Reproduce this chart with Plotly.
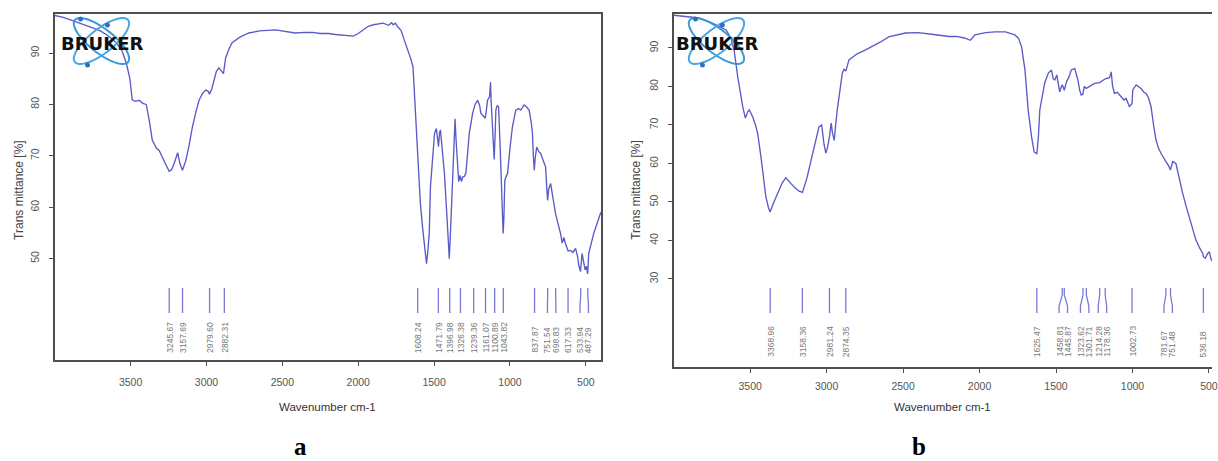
import numpy as np
import plotly.graph_objects as go

# ---------------- spectrum a ----------------
wn_a = [3999, 3950, 3900, 3836, 3770, 3705, 3650, 3593, 3555, 3528, 3505, 3489, 3470, 3443,
        3420, 3397, 3377, 3357, 3330, 3311, 3279, 3246, 3230, 3213, 3190, 3175, 3158, 3136,
        3115, 3093, 3070, 3049, 3025, 3005, 2990, 2980, 2965, 2950, 2935, 2918, 2905, 2888,
        2874, 2852, 2831, 2780, 2721, 2650, 2546, 2480, 2415, 2350, 2300, 2250, 2197, 2150,
        2100, 2060, 2033, 2000, 1970, 1934, 1900, 1870, 1836, 1800, 1780, 1770, 1755, 1740,
        1718, 1700, 1672, 1655, 1639, 1630, 1620, 1610, 1600, 1590, 1574, 1560, 1550, 1541,
        1532, 1524, 1514, 1505, 1497, 1485, 1478, 1471, 1464, 1458, 1452, 1447, 1432, 1415,
        1403, 1400, 1388, 1375, 1368, 1362, 1356, 1346, 1338, 1329, 1320, 1311, 1300, 1290,
        1278, 1268, 1246, 1230, 1213, 1200, 1192, 1175, 1163, 1155, 1148, 1135, 1128, 1124,
        1118, 1110, 1104, 1098, 1093, 1084, 1075, 1064, 1053, 1045, 1040, 1034, 1025, 1016,
        1000, 984, 962, 945, 929, 907, 890, 874, 860, 852, 846, 840, 834, 824, 810, 798, 780,
        765, 758, 752, 745, 732, 715, 700, 685, 667, 656, 645, 635, 623, 617, 601, 585, 568,
        555, 545, 535, 525, 515, 505, 496, 488, 481, 465, 448, 430, 415, 401]
t_a = [97.3, 97.0, 96.5, 95.8, 95.0, 94.4, 93.4, 92.0, 90.3, 88.0, 85.0, 80.9, 80.6, 80.8,
       80.2, 80.0, 76.9, 73.0, 71.5, 71.0, 69.0, 67.0, 67.3, 68.5, 70.6, 68.5, 67.2, 69.1,
       72.0, 75.6, 78.5, 80.8, 82.2, 82.8, 82.6, 82.0, 83.0, 84.8, 86.4, 87.1, 86.6, 86.0,
       89.0, 90.8, 92.0, 93.1, 93.9, 94.3, 94.5, 94.2, 93.9, 94.0, 94.0, 93.8, 93.8, 93.6,
       93.5, 93.3, 93.3, 93.8, 94.5, 95.2, 95.5, 95.7, 95.8, 95.4, 95.9, 95.5, 95.8, 95.1,
       94.4, 92.8, 90.6, 89.0, 87.3, 82.0, 75.6, 70.0, 66.0, 60.5, 55.5, 51.0, 49.0, 51.5,
       55.0, 64.0, 68.5, 71.0, 74.4, 75.3, 73.0, 71.8, 74.5, 75.0, 73.0, 71.7, 66.6, 58.0,
       50.2, 50.0, 58.0, 68.0, 72.5, 77.2, 73.5, 68.0, 65.0, 66.2, 65.0, 65.9, 66.0, 66.8,
       71.0, 74.4, 78.3, 80.0, 80.8, 79.8, 78.3, 77.8, 77.3, 79.0, 80.8, 81.5, 84.3, 80.5,
       77.0, 70.5, 69.3, 74.0, 78.9, 79.8, 79.5, 71.1, 61.3, 54.9, 58.0, 65.2, 66.0, 66.6,
       71.5, 75.6, 78.9, 79.2, 78.9, 79.9, 79.5, 78.9, 76.5, 74.4, 70.0, 67.2, 69.5, 71.7,
       70.8, 70.5, 69.0, 67.8, 64.0, 61.3, 63.5, 64.6, 61.5, 58.8, 57.0, 54.9, 53.0, 54.1,
       53.0, 52.2, 51.5, 51.6, 51.2, 52.0, 50.5, 48.5, 47.5, 51.0, 49.5, 47.8, 48.5, 47.0,
       51.0, 53.0, 54.9, 56.5, 58.0, 59.0]
peaks_a = [3245.67, 3157.69, 2979.60, 2882.31, 1608.24, 1471.79, 1396.98, 1326.38, 1239.36,
           1161.07, 1100.89, 1043.82, 837.87, 751.54, 698.83, 617.33, 533.94, 487.29]

# ---------------- spectrum b ----------------
wn_b = [3999, 3950, 3900, 3833, 3750, 3700, 3657, 3625, 3605, 3581, 3560, 3548, 3531, 3515,
        3505, 3483, 3465, 3451, 3430, 3418, 3397, 3380, 3369, 3350, 3320, 3290, 3267, 3240,
        3210, 3180, 3158, 3130, 3100, 3072, 3050, 3032, 3017, 3005, 2995, 2981, 2970, 2962,
        2950, 2941, 2930, 2897, 2885, 2874, 2860, 2854, 2800, 2745, 2650, 2594, 2485, 2400,
        2300, 2200, 2150, 2100, 2060, 2030, 1960, 1900, 1830, 1769, 1745, 1725, 1703, 1682,
        1660, 1643, 1625, 1615, 1606, 1590, 1574, 1550, 1530, 1518, 1508, 1495, 1476, 1465,
        1458, 1446, 1432, 1415, 1400, 1378, 1357, 1345, 1335, 1324, 1315, 1302, 1280, 1248,
        1214, 1194, 1178, 1150, 1139, 1130, 1118, 1100, 1074, 1055, 1042, 1030, 1020, 1003,
        998, 976, 960, 944, 925, 911, 895, 879, 862, 846, 830, 813, 781, 765, 752, 737, 716,
        695, 672, 650, 629, 605, 585, 560, 541, 536, 524, 510, 498, 485, 468, 450, 420, 400]
t_b = [98.5, 98.3, 98.0, 97.8, 96.5, 95.5, 94.7, 92.5, 89.5, 82.5, 77.0, 74.7, 71.8, 73.5,
       73.9, 72.1, 70.0, 67.9, 62.0, 57.5, 51.3, 48.5, 47.4, 49.5, 52.5, 55.0, 56.3, 55.0,
       53.8, 52.8, 52.5, 56.0, 61.0, 65.5, 69.5, 70.0, 65.0, 62.7, 64.0, 67.0, 70.5, 68.0,
       66.0, 70.0, 74.0, 83.5, 84.5, 84.0, 86.5, 86.9, 88.5, 89.5, 91.5, 92.9, 93.9, 94.0,
       93.5, 93.0, 93.0, 92.6, 92.0, 93.4, 94.0, 94.2, 94.2, 93.4, 92.5, 90.3, 84.3, 73.9,
       67.0, 63.0, 62.5, 67.0, 73.9, 78.0, 80.9, 83.5, 84.3, 82.0, 81.7, 83.0, 78.6, 80.0,
       80.4, 79.0, 81.2, 82.5, 84.3, 84.7, 81.7, 79.0, 77.8, 78.0, 80.0, 79.5, 80.0, 80.8,
       81.0, 81.7, 82.0, 82.3, 83.8, 80.0, 78.2, 78.5, 77.4, 76.5, 76.9, 75.5, 74.8, 75.5,
       79.1, 80.4, 80.0, 79.5, 78.5, 78.2, 77.0, 74.8, 70.0, 66.1, 64.0, 62.6, 60.5, 59.5,
       58.3, 60.5, 60.0, 56.0, 52.3, 49.0, 46.2, 43.0, 40.1, 38.0, 36.7, 35.8, 35.4, 36.5,
       37.1, 35.0, 34.1, 32.5, 31.0, 30.0]
peaks_b = [3368.96, 3158.36, 2981.24, 2874.35, 1625.47, 1458.81, 1445.87, 1323.62, 1301.71,
           1214.28, 1178.36, 1002.73, 781.67, 751.48, 536.18]

x_ticks = [3500, 3000, 2500, 2000, 1500, 1000, 500]
y_ticks_a = [50, 60, 70, 80, 90]
y_ticks_b = [30, 40, 50, 60, 70, 80, 90]

W, H = 1218, 461
LINE = "#5a5ac8"
PEAK = "#7a7ad4"
AXC = "#4f4f4f"
SANS = "Liberation Sans, Arial, sans-serif"


def fx(p):
    return p / W


def fy(p):
    return 1 - p / H


panels = {
    "a": dict(xd=(55, 604), yd=(14, 360), xr=(4000, 400), yr=(30.27, 97.59),
              wn=wn_a, t=t_a, peaks=peaks_a, yt=y_ticks_a, line_px=(288, 313),
              text_px=355, xstand=7, logo=(102, 41), title_x=19, letter=("a", 302)),
    "b": dict(xd=(677, 1218), yd=(14, 367), xr=(4000, 480), yr=(7.14, 98.83),
              wn=wn_b, t=t_b, peaks=peaks_b, yt=y_ticks_b, line_px=(288, 313),
              text_px=359, xstand=4, logo=(720, 41), title_x=639, letter=("b", 924)),
}

fig = go.Figure()
shapes, annotations = [], []


def note(x, y, text, font, angle=0, xref="paper", xanchor="center", yanchor="middle"):
    annotations.append(dict(x=x, y=y, xref=xref, yref="paper", text=text,
                            showarrow=False, textangle=angle, xanchor=xanchor,
                            yanchor=yanchor, font=font))


for i, (key, p) in enumerate(panels.items()):
    xa = "x" if i == 0 else "x2"
    ya = "y" if i == 0 else "y2"
    fig.add_trace(go.Scatter(x=p["wn"], y=p["t"], mode="lines", xaxis=xa, yaxis=ya,
                             line=dict(color=LINE, width=1.35), showlegend=False,
                             hoverinfo="skip"))

    axis_common = dict(showgrid=False, zeroline=False, showline=True, linecolor=AXC,
                       linewidth=1.8, ticks="outside", ticklen=4, tickcolor=AXC,
                       tickfont=dict(family=SANS, size=10.5, color="#555"))
    xkey = "xaxis" if i == 0 else "xaxis2"
    ykey = "yaxis" if i == 0 else "yaxis2"
    fig.update_layout({
        xkey: dict(domain=[fx(p["xd"][0]), fx(p["xd"][1])], range=list(p["xr"]),
                   anchor=ya, tickvals=x_ticks, mirror=True,
                   ticklabelstandoff=p["xstand"], ticklabeloverflow="allow",
                   **axis_common),
        ykey: dict(domain=[fy(p["yd"][1]), fy(p["yd"][0])], range=list(p["yr"]),
                   anchor=xa, tickvals=p["yt"], tickangle=-90, mirror=(i == 0),
                   ticklabelstandoff=6, **axis_common),
    })

    # peak markers: spread labels so neighbours keep a minimum pixel gap
    x0, x1 = p["xd"]
    scale = (x1 - x0) / (p["xr"][0] - p["xr"][1])
    pos = [x0 + (p["xr"][0] - w) * scale for w in p["peaks"]]
    lab = list(pos)
    gap = 8.5
    for _ in range(300):
        moved = False
        for k in range(len(lab) - 1):
            d = lab[k + 1] - lab[k]
            if d < gap - 1e-6:
                s = (gap - d) / 2
                lab[k] -= s
                lab[k + 1] += s
                moved = True
        if not moved:
            break
    to_wn = lambda q: p["xr"][0] - (q - x0) / scale
    ya_top, ya_bot = p["line_px"]
    for w, q1 in zip(p["peaks"], lab):
        xw0, xw1 = w, to_wn(q1)
        path = (f"M {xw0},{fy(ya_top)} L {xw0},{fy(ya_top + 7)} "
                f"L {xw1},{fy(ya_bot - 7)} L {xw1},{fy(ya_bot)}")
        shapes.append(dict(type="path", path=path, xref=xa, yref="paper",
                           line=dict(color=PEAK, width=1.3)))
        note(xw1, fy(p["text_px"]), f"{w:.2f}",
             dict(family=SANS, size=8.5, color="#777"), angle=-90, xref=xa,
             yanchor="bottom")

    # axis titles
    note(fx((x0 + x1) / 2), fy(407), "Wavenumber cm-1",
         dict(family=SANS, size=11.5, color="#333"))
    note(fx(p["title_x"]), fy(190), "Trans mittance [%]",
         dict(family=SANS, size=12, color="#444"), angle=-90)
    # panel letter
    note(fx(p["letter"][1]), fy(446), f"<b>{p['letter'][0]}</b>",
         dict(family="Liberation Serif, Times New Roman, serif", size=25, color="#000"))

    # BRUKER logo: two tilted orbits, electrons and the wordmark
    cx, cy = p["logo"]
    th = np.linspace(0, 2 * np.pi, 80)
    for ang, col in ((38, "#3b98d6"), (-38, "#4aa6de")):
        a_r, b_r = 34, 12
        ca, sa = np.cos(np.radians(ang)), np.sin(np.radians(ang))
        ex = cx + a_r * np.cos(th) * ca - b_r * np.sin(th) * sa
        ey = cy + a_r * np.cos(th) * sa + b_r * np.sin(th) * ca
        d = "M " + " L ".join(f"{fx(u):.5f},{fy(v):.5f}" for u, v in zip(ex, ey)) + " Z"
        shapes.append(dict(type="path", path=d, xref="paper", yref="paper",
                           line=dict(color=col, width=2)))
    for ddx, ddy in ((-14, 24), (-21, -22), (6, -16)):
        shapes.append(dict(type="circle", xref="paper", yref="paper",
                           x0=fx(cx + ddx - 2.5), x1=fx(cx + ddx + 2.5),
                           y0=fy(cy + ddy + 2.5), y1=fy(cy + ddy - 2.5),
                           fillcolor="#2a6fc4", line=dict(width=0)))
    note(fx(cx + 1), fy(cy + 2), "<b>BRUKER</b>",
         dict(family="DejaVu Sans, sans-serif", size=18, color="#111"))

fig.update_layout(width=W, height=H, margin=dict(l=0, r=0, t=0, b=0),
                  paper_bgcolor="white", plot_bgcolor="white",
                  shapes=shapes, annotations=annotations)

fig.write_html("out.html")
